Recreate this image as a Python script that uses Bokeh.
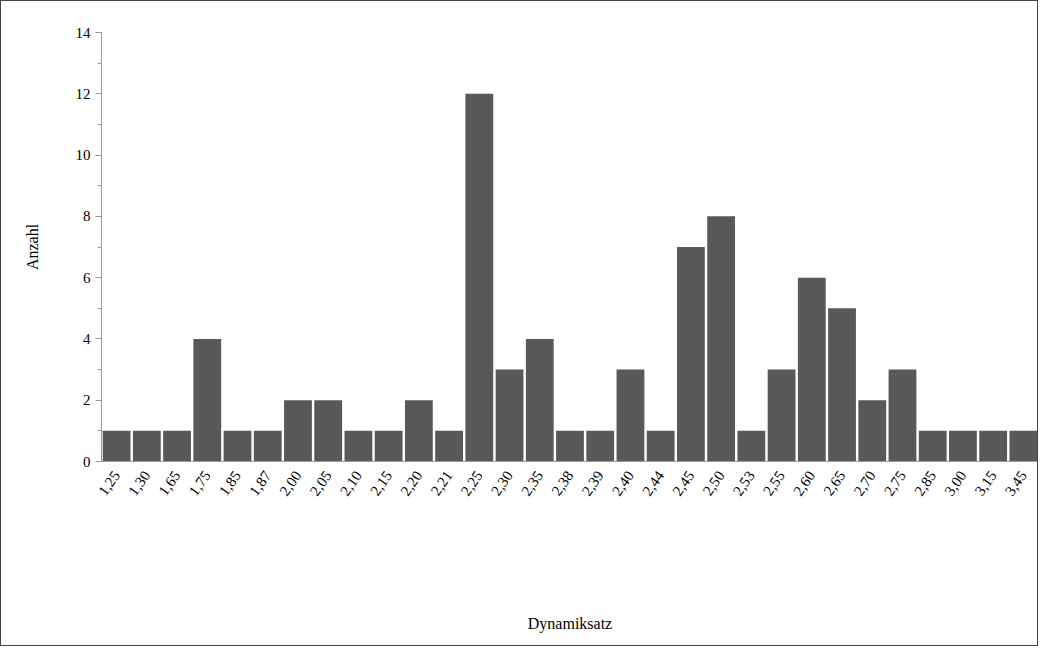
import math
from bokeh.plotting import figure
from bokeh.models import ColumnDataSource, FixedTicker
from bokeh.embed import file_html
from bokeh.resources import INLINE

categories = ["1,25", "1,30", "1,65", "1,75", "1,85", "1,87", "2,00", "2,05", "2,10", "2,15",
              "2,20", "2,21", "2,25", "2,30", "2,35", "2,38", "2,39", "2,40", "2,44", "2,45",
              "2,50", "2,53", "2,55", "2,60", "2,65", "2,70", "2,75", "2,85", "3,00", "3,15", "3,45"]
counts = [1, 1, 1, 4, 1, 1, 2, 2, 1, 1, 2, 1, 12, 3, 4, 1, 1, 3, 1, 7, 8, 1, 3, 6, 5, 2, 3, 1, 1, 1, 1]

source = ColumnDataSource(dict(cat=categories, n=counts))

p = figure(x_range=categories, y_range=(0, 14), width=1038, height=644,
           output_backend="svg", toolbar_location=None,
           min_border_left=100, min_border_right=1, min_border_top=31, min_border_bottom=184,
           styles={"border": "1px solid #444"})
p.vbar(x="cat", top="n", width=0.92, source=source, fill_color="#595959", line_color=None)

p.xgrid.visible = False
p.ygrid.visible = False
p.outline_line_color = None
p.x_range.range_padding = 0

font = "Liberation Serif"
for ax in (p.xaxis, p.yaxis):
    ax.axis_line_color = "#999999"
    ax.major_tick_line_color = "#999999"
    ax.minor_tick_line_color = "#999999"
    ax.major_label_text_font = font
    ax.major_label_text_font_size = "15px"
    ax.major_label_text_color = "black"
    ax.axis_label_text_font = font
    ax.axis_label_text_font_size = "16px"
    ax.axis_label_text_font_style = "normal"
    ax.axis_label_text_color = "black"

p.yaxis.ticker = FixedTicker(ticks=list(range(0, 15, 2)), minor_ticks=list(range(0, 15)))
p.yaxis.major_tick_in = 0
p.yaxis.major_tick_out = 6
p.yaxis.minor_tick_in = 0
p.yaxis.minor_tick_out = 4
p.yaxis.axis_label = "Anzahl"
p.yaxis.axis_label_standoff = 32

p.xaxis.major_tick_line_color = None
p.xaxis.major_label_orientation = math.radians(55)
p.xaxis.axis_label = "Dynamiksatz"
p.xaxis.axis_label_standoff = 112
p.frame_height = 429

open("out.html", "w").write(file_html(p, INLINE))
